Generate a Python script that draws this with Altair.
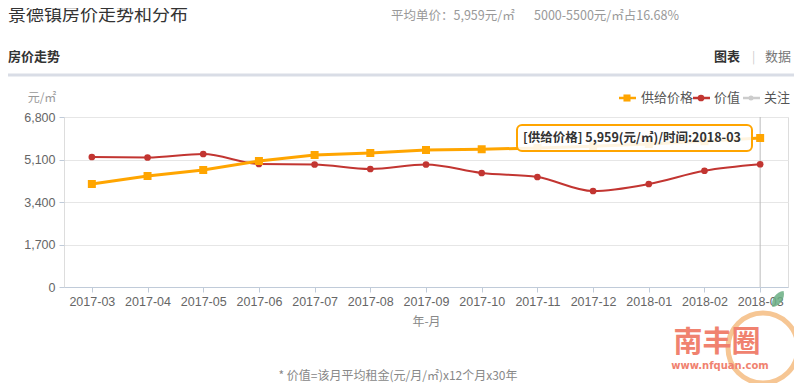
import altair as alt
import pandas as pd

months = ["2017-03", "2017-04", "2017-05", "2017-06", "2017-07", "2017-08", "2017-09",
          "2017-10", "2017-11", "2017-12", "2018-01", "2018-02", "2018-03"]
supply = [4120, 4440, 4680, 5040, 5280, 5360, 5480, 5510, 5560, 5630, 5720, 5830, 5959]
value = [5200, 5180, 5320, 4920, 4900, 4720, 4900, 4560, 4400, 3840, 4120, 4650, 4910]
y_ticks = [0, 1700, 3400, 5100, 6800]

FONT = "Noto Sans CJK SC"
ORANGE = "#FFA500"
RED = "#c23531"
W, H = 724, 170

df_s = pd.DataFrame({"month": months, "v": supply})
df_v = pd.DataFrame({"month": months, "v": value})
one = pd.DataFrame({"k": [0]})

xscale = alt.Scale(type="point", padding=0.5, domain=months)
xenc = alt.X("month:O", scale=xscale,
             axis=alt.Axis(labelAngle=0, labelAlign="center", labelBaseline="top", title="年-月",
                           titleColor="#888", titleFontWeight="normal",
                           titleFontSize=12, titlePadding=9, labelColor="#666", labelFontSize=12.5,
                           labelPadding=3, tickSize=5, tickColor="#c0cbd9", domainColor="#c0cbd9",
                           grid=False, labelFont="Liberation Sans", titleFont=FONT))
yenc = alt.Y("v:Q", scale=alt.Scale(domain=[0, 6800], nice=False),
             axis=alt.Axis(values=y_ticks, labelExpr="format(datum.value, ',')", title=None, domain=False,
                           tickColor="#c0cbd9", tickSize=5, labelPadding=4, gridColor="#e6e6e6",
                           labelColor="#666", labelFontSize=12.5, labelFont="Liberation Sans"))

crosshair = alt.Chart(pd.DataFrame({"month": ["2018-03"]})).mark_rule(color="#bbbbbb", strokeWidth=1).encode(
    x=xenc, y=alt.value(0), y2=alt.value(H))

s_line = alt.Chart(df_s).mark_line(color=ORANGE, strokeWidth=3).encode(x=xenc, y=yenc)
s_pts = alt.Chart(df_s).mark_point(shape="square", filled=True, color=ORANGE, size=64, opacity=1).encode(x=xenc, y=yenc)
v_line = alt.Chart(df_v).mark_line(color=RED, strokeWidth=2, interpolate="monotone").encode(x=xenc, y=yenc)
v_pts = alt.Chart(df_v).mark_circle(color=RED, size=45, opacity=1).encode(x=xenc, y=yenc)


def txt(s, x, y, size=12, color="#333", weight="normal", align="left", font=FONT):
    return alt.Chart(one).mark_text(text=s, fontSize=size, color=color, fontWeight=weight, align=align,
                                    baseline="middle", font=font).encode(x=alt.value(x), y=alt.value(y))


def hrule(x1, x2, y, color, w):
    return alt.Chart(one).mark_rule(color=color, strokeWidth=w).encode(
        x=alt.value(x1), x2=alt.value(x2), y=alt.value(y))


def pt(x, y, shape, color, size):
    return alt.Chart(one).mark_point(shape=shape, filled=True, color=color, size=size, opacity=1).encode(
        x=alt.value(x), y=alt.value(y))


ox, oy = 64, 117  # page position of plot origin
def X(p):
    return p - ox
def Y(p):
    return p - oy

LEAF = "M0,-1 C0.6,-0.5 0.6,0.5 0,1 C-0.6,0.5 -0.6,-0.5 0,-1Z"

deco = [
    txt("景德镇房价走势和分布", X(8), Y(16), size=18, color="#333"),
    txt("平均单价：5,959元/㎡", X(391), Y(16), size=12.5, color="#999"),
    txt("5000-5500元/㎡占16.68%", X(534), Y(16), size=12.5, color="#999"),
    txt("房价走势", X(8), Y(57), size=13, color="#333", weight="bold"),
    txt("图表", X(714), Y(57), size=13, color="#333", weight="bold"),
    txt("|", X(752), Y(57), size=12, color="#ccc"),
    txt("数据", X(765), Y(57), size=13, color="#777"),
    hrule(X(6), X(797), Y(75), "#d9dde6", 3),
    txt("元/㎡", X(42), Y(98), size=12, color="#999", align="center"),
    # legend
    hrule(X(619), X(636), Y(98), ORANGE, 2.5),
    pt(X(627), Y(98), "square", ORANGE, 50),
    txt("供给价格", X(641), Y(98), size=13, color="#555"),
    hrule(X(693), X(710), Y(98), RED, 2.5),
    pt(X(701), Y(98), "circle", RED, 45),
    txt("价值", X(714), Y(98), size=13, color="#555"),
    hrule(X(743), X(760), Y(98), "#cccccc", 2.5),
    pt(X(751), Y(98), "circle", "#cccccc", 25),
    txt("关注", X(764), Y(98), size=13, color="#555"),
    # footnote
    txt("* 价值=该月平均租金(元/月/㎡)x12个月x30年", X(398), Y(376), size=12, color="#888", align="center"),
    # watermark
    alt.Chart(one).mark_point(shape="circle", filled=False, stroke="#f5b97a", strokeWidth=5, size=4900,
                              opacity=0.8).encode(x=alt.value(X(763)), y=alt.value(Y(348))),
    alt.Chart(one).mark_point(shape=LEAF, filled=True, color="#6aae82", size=380, angle=35, opacity=0.85).encode(
        x=alt.value(X(778)), y=alt.value(Y(299))),
    txt("南丰圈", X(717), Y(343), size=29, color="#f0826f", weight="bold", align="center"),
    txt("www.nfquan.com", X(720), Y(366), size=10, color="#f0826f", weight="bold", align="center",
        font="DejaVu Sans"),
]

tip = [
    hrule(X(752), X(762), Y(138), ORANGE, 2),
    alt.Chart(one).mark_rect(fill="white", fillOpacity=0.88, stroke=ORANGE, strokeWidth=2, cornerRadius=5).encode(
        x=alt.value(X(517)), x2=alt.value(X(752)), y=alt.value(Y(125)), y2=alt.value(Y(151))),
    txt("[供给价格] 5,959(元/㎡)/时间:2018-03", X(523), Y(138), size=12.5, color="#333", weight="bold"),
]

chart = alt.layer(crosshair, v_line, v_pts, s_line, s_pts, *tip, *deco).properties(
    width=W, height=H,
    autosize=alt.AutoSizeParams(type="none"),
    padding={"left": 56, "top": 109, "right": 6, "bottom": 96},
).configure_view(stroke=None).configure(background="white")

chart.save("out.html", embed_options={"renderer": "svg", "actions": False})
